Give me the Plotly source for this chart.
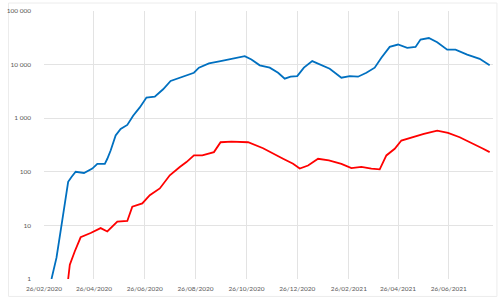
import plotly.graph_objects as go

blue_dates = ["2020-03-06", "2020-03-12", "2020-03-18", "2020-03-22", "2020-03-26", "2020-03-30",
              "2020-04-04", "2020-04-14", "2020-04-24", "2020-04-30", "2020-05-09", "2020-05-12",
              "2020-05-16", "2020-05-22", "2020-05-28", "2020-06-05", "2020-06-12", "2020-06-20",
              "2020-06-28", "2020-07-08", "2020-07-18", "2020-07-27", "2020-08-07", "2020-08-19",
              "2020-08-24", "2020-08-30", "2020-09-11", "2020-09-25", "2020-10-08", "2020-10-24",
              "2020-11-01", "2020-11-11", "2020-11-23", "2020-12-03", "2020-12-11", "2020-12-18",
              "2020-12-26", "2021-01-03", "2021-01-13", "2021-01-23", "2021-02-03", "2021-02-17",
              "2021-02-27", "2021-03-09", "2021-03-19", "2021-03-29", "2021-04-06", "2021-04-16",
              "2021-04-26", "2021-05-07", "2021-05-17", "2021-05-23", "2021-06-02", "2021-06-12",
              "2021-06-24", "2021-07-04", "2021-07-18", "2021-08-02", "2021-08-14"]
blue_values = [1, 2.5, 10, 27, 65, 80,
               100, 95, 115, 141, 141, 175,
               250, 475, 630, 750, 1110, 1590,
               2430, 2530, 3470, 4950, 5700, 6770,
               7050, 8770, 10500, 11600, 12800, 14400,
               12500, 9700, 8770, 7050, 5460, 5950,
               6100, 8770, 11600, 10000, 8350, 5700,
               6100, 5950, 7050, 8770, 13400, 21400,
               23700, 20500, 21400, 29300, 31300, 26100,
               19000, 19000, 15400, 12800, 9700]

red_dates = ["2020-03-26", "2020-03-28", "2020-04-03", "2020-04-10", "2020-04-22", "2020-05-04",
             "2020-05-12", "2020-05-24", "2020-06-05", "2020-06-11", "2020-06-23", "2020-07-02",
             "2020-07-14", "2020-07-26", "2020-08-07", "2020-08-15", "2020-08-24", "2020-09-03",
             "2020-09-17", "2020-09-25", "2020-10-08", "2020-10-28", "2020-11-15", "2020-11-27",
             "2020-12-09", "2020-12-21", "2020-12-29", "2021-01-08", "2021-01-20", "2021-02-02",
             "2021-02-17", "2021-03-01", "2021-03-13", "2021-03-25", "2021-04-04", "2021-04-12",
             "2021-04-22", "2021-04-30", "2021-05-12", "2021-05-27", "2021-06-12", "2021-06-25",
             "2021-07-09", "2021-07-24", "2021-08-05", "2021-08-14"]
red_values = [1, 1.85, 3.3, 6.0, 7.2, 8.9,
              7.7, 11.8, 12.1, 22.3, 25.7, 36.7,
              48.9, 86, 123, 152, 202, 202,
              233, 356, 367, 356, 275, 217,
              175, 141, 115, 131, 175, 163,
              141, 117, 123, 115, 111, 202,
              269, 383, 441, 509, 587, 532,
              441, 333, 275, 233]

x_tick_vals = ["2020-02-26", "2020-04-26", "2020-06-26", "2020-08-26", "2020-10-26",
               "2020-12-26", "2021-02-26", "2021-04-26", "2021-06-26"]
x_tick_text = ["26/02/2020", "26/04/2020", "26/06/2020", "26/08/2020", "26/10/2020",
               "26/12/2020", "26/02/2021", "26/04/2021", "26/06/2021"]
y_tick_vals = [1, 10, 100, 1000, 10000, 100000]
y_tick_text = ["1", "10", "100", "1 000", "10 000", "100 000"]

fig = go.Figure()
fig.add_trace(go.Scatter(x=blue_dates, y=blue_values, mode="lines",
                         line=dict(color="#0070C0", width=1.8), showlegend=False))
fig.add_trace(go.Scatter(x=red_dates, y=red_values, mode="lines",
                         line=dict(color="#FF0000", width=1.8), showlegend=False))

grid = "#e3e3e3"
fig.update_layout(
    width=500, height=300,
    margin=dict(l=37, r=7, t=10, b=20.5),
    paper_bgcolor="white", plot_bgcolor="white",
    font=dict(family="Lato", size=6.5, color="#595959"),
    xaxis=dict(type="date", range=["2020-02-26", "2021-08-18"],
               tickvals=x_tick_vals, ticktext=x_tick_text,
               showgrid=True, gridcolor=grid, gridwidth=1,
               zeroline=False, showline=False, ticks="", tickangle=0,
               ticklabelstandoff=4),
    yaxis=dict(type="log", range=[0, 5],
               tickvals=y_tick_vals, ticktext=y_tick_text,
               showgrid=True, gridcolor=grid, gridwidth=1,
               zeroline=False, showline=False, ticks="", ticklabelstandoff=12),
    shapes=[dict(type="rect", xref="paper", yref="paper",
                 x0=-0.079, x1=1.0088, y0=-0.065, y1=1.0297,
                 line=dict(color="#ececec", width=1), fillcolor="rgba(0,0,0,0)",
                 layer="below")],
)

fig.write_html("out.html")
